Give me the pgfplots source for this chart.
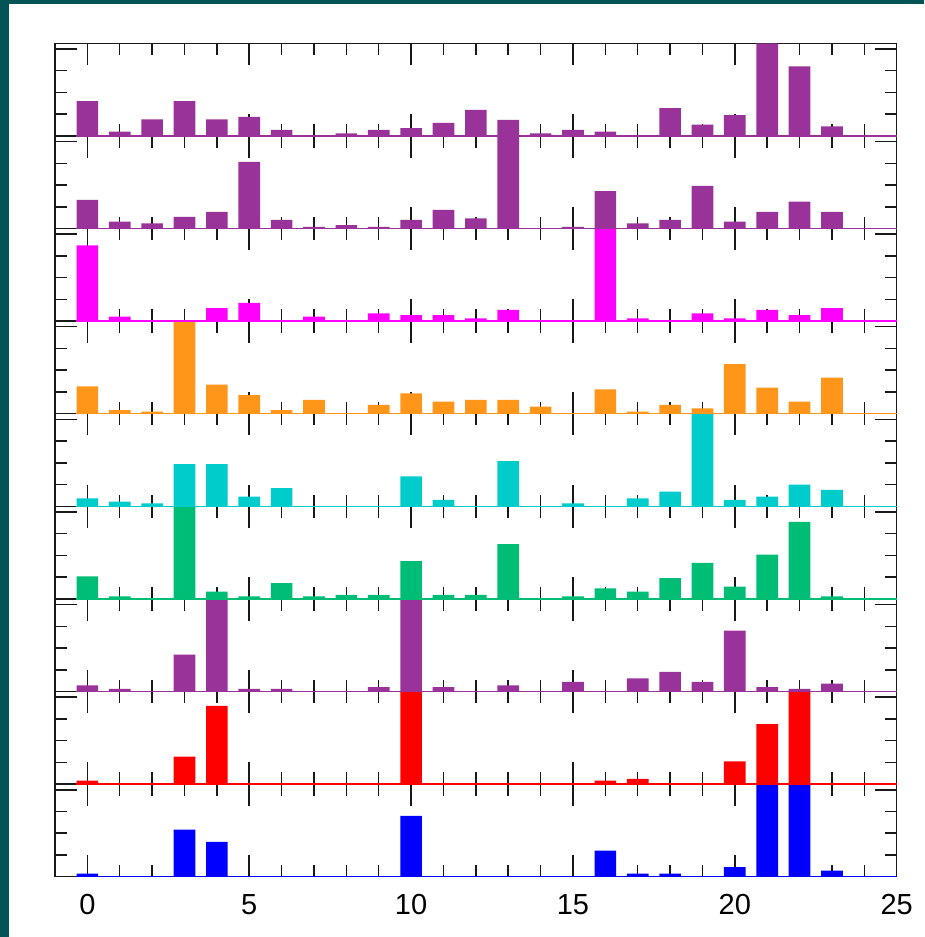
\documentclass[border=0pt]{standalone}
\usepackage{fontspec}
\setmainfont{Liberation Sans}
\usepackage{pgfplots}
\usepackage{pgfplotstable}
\pgfplotsset{compat=1.18}

\definecolor{frameteal}{RGB}{4,84,87}
\definecolor{cpurple}{RGB}{153,51,153}
\definecolor{cmagenta}{RGB}{255,0,255}
\definecolor{corange}{RGB}{255,150,25}
\definecolor{ccyan}{RGB}{0,204,204}
\definecolor{cgreen}{RGB}{0,189,117}
\definecolor{cred}{RGB}{255,0,0}
\definecolor{cblue}{RGB}{0,0,255}

% one column per panel, top (p1) to bottom (p9); 1.065 = bar runs off the panel top
\pgfplotstableread{
x  p1    p2    p3    p4    p5    p6    p7    p8    p9
0  0.40  0.33  0.87  0.315 0.09  0.26  0.07  0.04  0.035
1  0.05  0.08  0.05  0.04  0.055 0.03  0.03  0     0
2  0.19  0.06  0     0.025 0.035 0     0     0     0
3  0.40  0.135 0     1.065 0.485 1.065 0.425 0.315 0.54
4  0.19  0.19  0.15  0.335 0.485 0.085 1.065 0.90  0.40
5  0.22  0.765 0.21  0.215 0.11  0.03  0.03  0     0
6  0.07  0.10  0     0.04  0.21  0.18  0.03  0     0
7  0     0.02  0.05  0.16  0     0.03  0     0     0
8  0.03  0.04  0     0     0     0.045 0     0     0
9  0.07  0.02  0.09  0.10  0     0.045 0.05  0     0
10 0.09  0.10  0.07  0.235 0.345 0.435 1.065 1.065 0.70
11 0.15  0.215 0.07  0.14  0.075 0.045 0.05  0     0
12 0.30  0.115 0.03  0.16  0     0.045 0     0     0
13 0.185 1.065 0.13  0.16  0.52  0.63  0.07  0     0
14 0.03  0     0     0.08  0     0     0     0     0
15 0.07  0.02  0     0     0.035 0.03  0.11  0     0
16 0.05  0.43  1.065 0.28  0     0.12  0     0.04  0.30
17 0     0.06  0.03  0.025 0.09  0.085 0.15  0.06  0.035
18 0.32  0.10  0     0.10  0.17  0.24  0.225 0     0.035
19 0.13  0.49  0.09  0.06  1.065 0.415 0.11  0     0
20 0.24  0.08  0.03  0.57  0.075 0.14  0.70  0.26  0.11
21 1.065 0.19  0.13  0.30  0.11  0.51  0.05  0.69  1.065
22 0.80  0.31  0.07  0.14  0.25  0.885 0.03  1.065 1.065
23 0.11  0.19  0.15  0.415 0.19  0.03  0.09  0     0.07
}\hist

\pgfplotsset{
  panel/.style={
    scale only axis, width=841.7pt, height=92.6pt,
    xmin=-1, xmax=25, ymin=0, ymax=1.065,
    clip=false,
    axis line style={draw=black!90, line width=1.3pt},
    tick align=inside,
    xtick={0,5,...,25}, minor xtick={-1,0,...,25},
    ytick={0,1}, minor ytick={0.25,0.5,0.75},
    major tick length=21.7pt, minor tick length=11.7pt,
    tick style={black!90, line width=1.5pt},
    xticklabels={}, yticklabels={},
    anchor=south west,
  },
  bars/.style={ybar, bar width=0.67, bar shift=0pt, fill=#1, draw=none},
  base/.style={draw=#1, line width=1.4pt, forget plot},
}

% panel k (1 = top) sits at y = 60.3 + (9-k)*92.6
\newcommand{\panel}[4]{%
  \begin{axis}[panel, at={(55pt,#1)}, #4]
    \addplot[bars=#3] table[x=x, y=#2] {\hist};
    \addplot[base=#3] coordinates {(-0.34,0) (25,0)};
  \end{axis}}

\begin{document}
\begin{tikzpicture}
  \fill[frameteal] (0,0) rectangle (924pt,937pt);
  \fill[white] (9pt,0) rectangle (924pt,933pt);
  % drawn bottom to top so each baseline covers the frame of the panel below
  \panel{60.3pt}{p9}{cblue}{xticklabels={0,5,10,15,20,25},
    xticklabel style={font=\fontsize{29}{30}\selectfont, yshift=-14pt},
    /pgf/number format/assume math mode=true}
  \panel{152.9pt}{p8}{cred}{}
  \panel{245.5pt}{p7}{cpurple}{}
  \panel{338.1pt}{p6}{cgreen}{}
  \panel{430.7pt}{p5}{ccyan}{}
  \panel{523.3pt}{p4}{corange}{}
  \panel{615.9pt}{p3}{cmagenta}{}
  \panel{708.5pt}{p2}{cpurple}{}
  \panel{801.1pt}{p1}{cpurple}{}
  \pgfresetboundingbox
  \useasboundingbox (0,0) rectangle (924pt,937pt);
\end{tikzpicture}
\end{document}
